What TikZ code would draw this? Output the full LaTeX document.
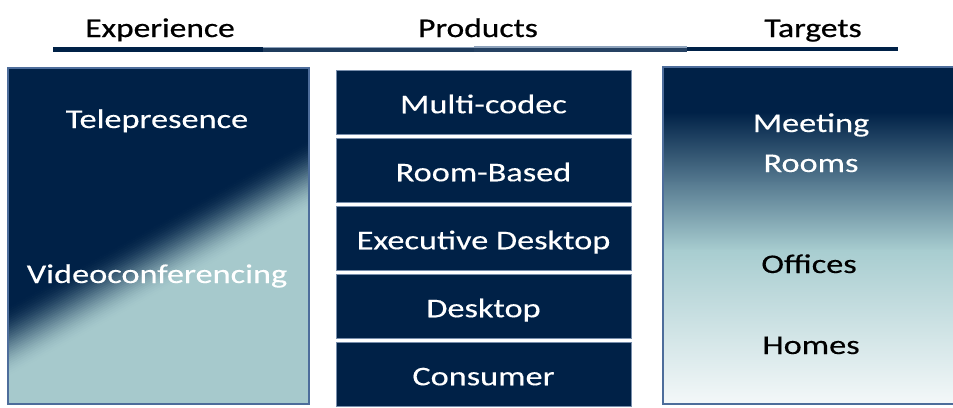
\documentclass[tikz,border=0pt]{standalone}
\usepackage{fontspec}
\setmainfont{Carlito}
\newfontfamily\headfont[FakeStretch=1.24, FakeBold=0.7]{Carlito}
\newfontfamily\boxfont[FakeStretch=1.27, FakeBold=0.3]{Carlito}
\definecolor{navy}{RGB}{0,33,71}
\definecolor{paleteal}{RGB}{166,201,204}
\definecolor{lightteal}{RGB}{168,205,208}
\definecolor{midblue}{RGB}{86,122,144}
\definecolor{mist}{RGB}{244,248,249}
\definecolor{framec}{RGB}{77,109,155}
\definecolor{prodframe}{RGB}{120,142,172}
\definecolor{rulelight}{RGB}{141,162,187}
\tikzset{
  headtext/.style={anchor=base, inner sep=0pt, text=black,
    font=\headfont\fontsize{27}{32}\selectfont},
  boxtext/.style={anchor=base, inner sep=0pt,
    font=\boxfont\fontsize{27}{32}\selectfont},
  prodbox/.style={rectangle, draw=prodframe, line width=0.8pt, fill=navy,
    text=white, minimum width=295pt, minimum height=64.5pt, inner sep=0pt,
    text height=22pt, text depth=0pt,
    font=\boxfont\fontsize{27}{32}\selectfont},
  panelframe/.style={draw=framec, line width=2.5pt}
}
\begin{document}
\begin{tikzpicture}[x=1pt, y=-1pt]
\useasboundingbox (0,0) rectangle (953,407);

% column headings
\node[headtext] (hexp)  at (160,37) {Experience};
\node[headtext] (hprod) at (478,37) {Products};
\node[headtext] (htgt)  at (813,37) {Targets};

% heading rule, four shaded pieces
\fill[navy] (53,47) rectangle (263,52);
\fill[rulelight] (263,47) rectangle (474,48.2);
\fill[navy!88!white] (263,48.2) rectangle (474,51.5);
\fill[rulelight] (474,46) rectangle (687,48.4);
\fill[navy!85!white] (474,48.4) rectangle (687,51.5);
\fill[navy] (687,46.5) rectangle (898,51);

% experience panel: diagonal blend from navy to pale teal
\begin{scope}
  \clip (8,68) rectangle (309,404);
  \fill[paleteal] (8,68) rectangle (309,404);
  \begin{scope}[shift={(159,258)}, rotate=29]
    \fill[navy] (-500,-500) rectangle (500,-30);
    \foreach \i in {0,...,31} {
      \pgfmathsetmacro\t{(\i+0.5)/32}
      \pgfmathsetmacro\p{100*(1-\t*\t*(3-2*\t))}
      \fill[navy!\p!paleteal] (-500,{-32+2*\i}) rectangle (500,{-32+2*\i+2.6});
    }
  \end{scope}
\end{scope}
\draw[panelframe] (8,68) rectangle (309,404);
\node[boxtext, text=white] (tele)  at (157,128) {Telepresence};
\node[boxtext, text=white] (video) at (157,283) {Videoconferencing};

% product stack
\foreach \t [count=\k] in {Multi-codec, Room-Based, Executive Desktop, Desktop, Consumer}
  \node[prodbox] (p\k) at (483.5,{102.25+68*(\k-1)}) {\t};

% targets panel: vertical blend from navy to near white
\begin{scope}
  \clip (663,67) rectangle (962,404);
  \fill[navy] (663,60) rectangle (962,113);
  \shade[top color=navy, bottom color=midblue] (663,112) rectangle (962,183);
  \shade[top color=midblue, bottom color=lightteal] (663,182) rectangle (962,251);
  \shade[top color=lightteal, bottom color=mist] (663,250) rectangle (962,405);
\end{scope}
\draw[panelframe] (663,67) rectangle (962,404);
\node[boxtext, text=white] (meet)  at (811,132) {Meeting};
\node[boxtext, text=white] (rooms) at (811,172) {Rooms};
\node[boxtext, text=black] (offi)  at (809,273) {Offices};
\node[boxtext, text=black] (homes) at (811,354) {Homes};
\end{tikzpicture}
\end{document}
